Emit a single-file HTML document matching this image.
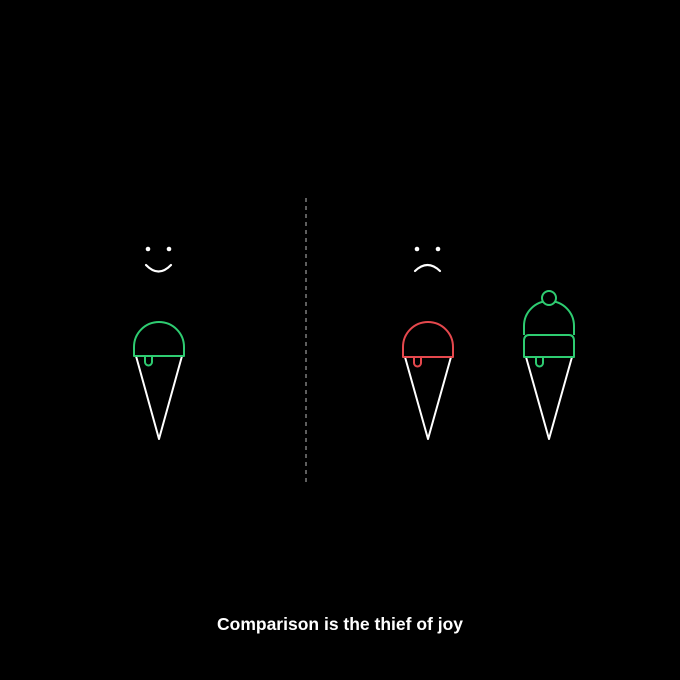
<!DOCTYPE html>
<html><head><meta charset="utf-8"><style>
html,body{margin:0;padding:0;background:#000;}
svg{display:block}
</style></head><body>
<svg width="680" height="680" viewBox="0 0 680 680">
<rect width="680" height="680" fill="#000"/>
<line x1="306" y1="198" x2="306" y2="482" stroke="#bbb" stroke-width="1" stroke-dasharray="4,4"/>
<g fill="#fff">
<circle cx="148" cy="249" r="2.3"/><circle cx="169" cy="249" r="2.3"/>
<path d="M146 265 Q158.5 278 171 265" fill="none" stroke="#fff" stroke-width="2.2" stroke-linecap="round"/>
</g>
<g fill="#fff">
<circle cx="417" cy="249" r="2.3"/><circle cx="438" cy="249" r="2.3"/>
<path d="M415 271 Q427.5 259 440 271" fill="none" stroke="#fff" stroke-width="2.2" stroke-linecap="round"/>
</g>
<g fill="none" stroke-width="2" stroke-linejoin="round">
<path d="M136 356 L159 439 L182 356" stroke="#fff"/>
<path d="M134 356 L134 347 A25 25 0 0 1 184 347 L184 356 Z" stroke="#2ecc71"/>
<path d="M145 356 L145 362 A3.5 3.5 0 0 0 152 362 L152 356" stroke="#2ecc71"/>
</g>
<g fill="none" stroke-width="2" stroke-linejoin="round">
<path d="M405 357 L428 439 L451 357" stroke="#fff"/>
<path d="M403 357 L403 347 A25 25 0 0 1 453 347 L453 357 Z" stroke="#e5484d"/>
<path d="M414 357 L414 363 A3.5 3.5 0 0 0 421 363 L421 357" stroke="#e5484d"/>
</g>
<g fill="none" stroke-width="2" stroke-linejoin="round">
<path d="M526 357 L549 439 L572 357" stroke="#fff"/>
<path d="M524 335 L524 326 A25 25 0 0 1 574 326 L574 335" stroke="#2ecc71"/>
<path d="M529 335 L569 335 Q574 335 574 341 L574 357 L524 357 L524 341 Q524 335 529 335 Z" stroke="#2ecc71"/>
<path d="M536 357 L536 363 A3.5 3.5 0 0 0 543 363 L543 357" stroke="#2ecc71"/>
<circle cx="549" cy="298" r="7" stroke="#2ecc71" fill="#000"/>
</g>
<text x="340" y="630" text-anchor="middle" fill="#fff" font-family="Liberation Sans, sans-serif" font-weight="bold" font-size="17.5">Comparison is the thief of joy</text>
</svg>
</body></html>
